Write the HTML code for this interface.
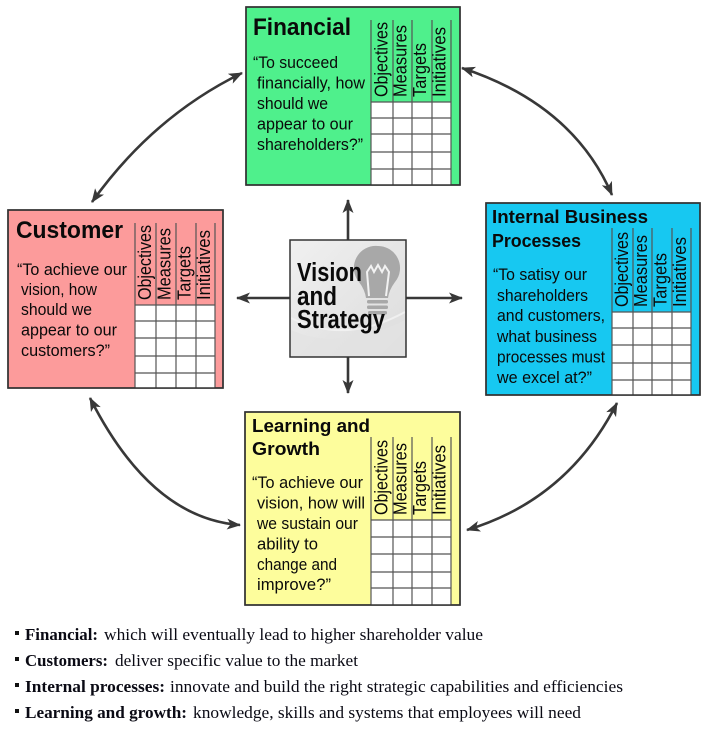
<!DOCTYPE html>
<html><head><meta charset="utf-8"><style>
html,body{margin:0;padding:0;background:#fff;}
svg{display:block;}
.t{font-family:"Liberation Sans",Arial,sans-serif;fill:#0a0a0a;}
.b{font-weight:bold;}
.q{font-size:17px;}
.h{font-size:18px;}
.s{font-family:"Liberation Serif","Times New Roman",serif;font-size:16.5px;fill:#0a0a14;}
</style></head><body>
<svg width="720" height="729" viewBox="0 0 720 729" xmlns="http://www.w3.org/2000/svg">
<defs>
<marker id="ah" markerUnits="userSpaceOnUse" markerWidth="15" markerHeight="12" refX="13" refY="5.5" orient="auto-start-reverse">
<path d="M0,0 L14,5.5 L0,11 L3.5,5.5 z" fill="#383838"/>
</marker>
<linearGradient id="cg" x1="0" y1="0" x2="1" y2="1">
<stop offset="0" stop-color="#f0f0f0"/><stop offset="1" stop-color="#dcdcdc"/>
</linearGradient>
</defs>

<!-- curved arrows -->
<g fill="none" stroke="#383838" stroke-width="2.6">
<path d="M242,73 Q153,116.5 92,202" marker-start="url(#ah)" marker-end="url(#ah)"/>
<path d="M462,68 Q573,104.5 612,195" marker-start="url(#ah)" marker-end="url(#ah)"/>
<path d="M90,398 Q151,518.5 240,525" marker-start="url(#ah)" marker-end="url(#ah)"/>
<path d="M617,403 Q568,499.5 467,530" marker-start="url(#ah)" marker-end="url(#ah)"/>
<!-- center straight arrows -->
<path d="M348,240 L348,200" marker-end="url(#ah)"/>
<path d="M348,357 L348,393" marker-end="url(#ah)"/>
<path d="M290,298 L237,298" marker-end="url(#ah)"/>
<path d="M406,298 L462,298" marker-end="url(#ah)"/>
</g>

<!-- Financial -->
<rect x="246" y="7" width="214" height="178" fill="#4ff08c" stroke="#333" stroke-width="1.5"/>
<rect x="371" y="102" width="80" height="83" fill="#fff"/>
<g stroke="#555" stroke-width="1.2">
<path d="M371,20V185M393,20V185M412,20V185M432,20V185M451,20V185"/>
<path d="M371,102H451M371,118H451M371,134H451M371,152H451M371,169H451"/>
</g>
<rect x="246" y="7" width="214" height="178" fill="none" stroke="#333" stroke-width="1.5"/>
<text class="t b" x="253" y="35" font-size="24.5" textLength="98" lengthAdjust="spacingAndGlyphs">Financial</text>
<g class="t q">
<text x="253" y="68" textLength="85" lengthAdjust="spacingAndGlyphs">“To succeed</text>
<text x="257" y="88.5" textLength="108" lengthAdjust="spacingAndGlyphs">financially, how</text>
<text x="257" y="109" textLength="71" lengthAdjust="spacingAndGlyphs">should we</text>
<text x="257" y="129.5" textLength="96" lengthAdjust="spacingAndGlyphs">appear to our</text>
<text x="257" y="150" textLength="106" lengthAdjust="spacingAndGlyphs">shareholders?”</text>
</g>
<g class="t h">
<text transform="translate(387.5,97) rotate(-90)" textLength="75" lengthAdjust="spacingAndGlyphs">Objectives</text>
<text transform="translate(406.5,97) rotate(-90)" textLength="72" lengthAdjust="spacingAndGlyphs">Measures</text>
<text transform="translate(426,97) rotate(-90)" textLength="54" lengthAdjust="spacingAndGlyphs">Targets</text>
<text transform="translate(445.5,97) rotate(-90)" textLength="70" lengthAdjust="spacingAndGlyphs">Initiatives</text>
</g>

<!-- Customer -->
<rect x="8" y="210" width="215" height="178" fill="#fc9b9b" stroke="#333" stroke-width="1.5"/>
<rect x="135" y="305" width="80" height="83" fill="#fff"/>
<g stroke="#555" stroke-width="1.2">
<path d="M135,223V388M156,223V388M176,223V388M196,223V388M215,223V388"/>
<path d="M135,305H215M135,321H215M135,338H215M135,356H215M135,373H215"/>
</g>
<rect x="8" y="210" width="215" height="178" fill="none" stroke="#333" stroke-width="1.5"/>
<text class="t b" x="16" y="238" font-size="24" textLength="107" lengthAdjust="spacingAndGlyphs">Customer</text>
<g class="t q">
<text x="17" y="275" textLength="110" lengthAdjust="spacingAndGlyphs">“To achieve our</text>
<text x="21" y="295" textLength="76" lengthAdjust="spacingAndGlyphs">vision, how</text>
<text x="21" y="315" textLength="71" lengthAdjust="spacingAndGlyphs">should we</text>
<text x="21" y="335.5" textLength="96" lengthAdjust="spacingAndGlyphs">appear to our</text>
<text x="21" y="356" textLength="89" lengthAdjust="spacingAndGlyphs">customers?”</text>
</g>
<g class="t h">
<text transform="translate(151,300) rotate(-90)" textLength="75" lengthAdjust="spacingAndGlyphs">Objectives</text>
<text transform="translate(170.5,300) rotate(-90)" textLength="72" lengthAdjust="spacingAndGlyphs">Measures</text>
<text transform="translate(190.5,300) rotate(-90)" textLength="54" lengthAdjust="spacingAndGlyphs">Targets</text>
<text transform="translate(210,300) rotate(-90)" textLength="70" lengthAdjust="spacingAndGlyphs">Initiatives</text>
</g>

<!-- Internal Business Processes -->
<rect x="486" y="203" width="214" height="192" fill="#17c8f1" stroke="#333" stroke-width="1.5"/>
<rect x="612" y="312" width="79" height="83" fill="#fff"/>
<g stroke="#555" stroke-width="1.2">
<path d="M612,228V395M633,228V395M652,228V395M672,228V395M691,228V395"/>
<path d="M612,312H691M612,328H691M612,345H691M612,363H691M612,380H691"/>
</g>
<rect x="486" y="203" width="214" height="192" fill="none" stroke="#333" stroke-width="1.5"/>
<text class="t b" x="492" y="223" font-size="18.5" textLength="156" lengthAdjust="spacingAndGlyphs">Internal Business</text>
<text class="t b" x="492" y="247" font-size="18.5" textLength="89" lengthAdjust="spacingAndGlyphs">Processes</text>
<g class="t q">
<text x="493" y="280" textLength="94" lengthAdjust="spacingAndGlyphs">“To satisy our</text>
<text x="497" y="301" textLength="91" lengthAdjust="spacingAndGlyphs">shareholders</text>
<text x="497" y="321" textLength="108" lengthAdjust="spacingAndGlyphs">and customers,</text>
<text x="497" y="342" textLength="100" lengthAdjust="spacingAndGlyphs">what business</text>
<text x="497" y="362.5" textLength="108" lengthAdjust="spacingAndGlyphs">processes must</text>
<text x="497" y="383" textLength="95" lengthAdjust="spacingAndGlyphs">we excel at?”</text>
</g>
<g class="t h">
<text transform="translate(628,307) rotate(-90)" textLength="75" lengthAdjust="spacingAndGlyphs">Objectives</text>
<text transform="translate(647,307) rotate(-90)" textLength="72" lengthAdjust="spacingAndGlyphs">Measures</text>
<text transform="translate(666.5,307) rotate(-90)" textLength="54" lengthAdjust="spacingAndGlyphs">Targets</text>
<text transform="translate(686,307) rotate(-90)" textLength="70" lengthAdjust="spacingAndGlyphs">Initiatives</text>
</g>

<!-- Learning and Growth -->
<rect x="245" y="412" width="215" height="193" fill="#fdfd9c" stroke="#333" stroke-width="1.5"/>
<rect x="371" y="520" width="80" height="85" fill="#fff"/>
<g stroke="#555" stroke-width="1.2">
<path d="M371,437V605M393,437V605M412,437V605M432,437V605M451,437V605"/>
<path d="M371,520H451M371,537H451M371,554H451M371,572H451M371,588H451"/>
</g>
<rect x="245" y="412" width="215" height="193" fill="none" stroke="#333" stroke-width="1.5"/>
<text class="t b" x="252" y="432" font-size="18.5" textLength="118" lengthAdjust="spacingAndGlyphs">Learning and</text>
<text class="t b" x="252" y="455" font-size="18.5" textLength="68" lengthAdjust="spacingAndGlyphs">Growth</text>
<g class="t q">
<text x="252" y="488" textLength="111" lengthAdjust="spacingAndGlyphs">“To achieve our</text>
<text x="257" y="508.5" textLength="108" lengthAdjust="spacingAndGlyphs">vision, how will</text>
<text x="257" y="529" textLength="101" lengthAdjust="spacingAndGlyphs">we sustain our</text>
<text x="257" y="549.5" textLength="61" lengthAdjust="spacingAndGlyphs">ability to</text>
<text x="257" y="570" textLength="80" lengthAdjust="spacingAndGlyphs">change and</text>
<text x="257" y="590" textLength="74" lengthAdjust="spacingAndGlyphs">improve?”</text>
</g>
<g class="t h">
<text transform="translate(387.5,515) rotate(-90)" textLength="75" lengthAdjust="spacingAndGlyphs">Objectives</text>
<text transform="translate(406.5,515) rotate(-90)" textLength="72" lengthAdjust="spacingAndGlyphs">Measures</text>
<text transform="translate(426,515) rotate(-90)" textLength="54" lengthAdjust="spacingAndGlyphs">Targets</text>
<text transform="translate(445.5,515) rotate(-90)" textLength="70" lengthAdjust="spacingAndGlyphs">Initiatives</text>
</g>

<!-- Vision and Strategy -->
<rect x="290" y="240" width="116" height="117" fill="url(#cg)"/>
<path d="M291,330 Q340,352 405,320 L405,356 L291,356 z" fill="#e2e2e2" opacity="0.7"/>
<path d="M291,318 Q345,345 405,312" fill="none" stroke="#f4f4f4" stroke-width="2" opacity="0.8"/>
<g fill="#a8a8a8">
<path d="M378,246 A22,22 0 0 1 395,282 Q389,290 388,298 L366,298 Q365,290 359,282 A22,22 0 0 1 378,246 z"/>
<rect x="367" y="300" width="21" height="3.5" rx="1.5"/>
<rect x="367" y="305.5" width="21" height="3.5" rx="1.5"/>
<rect x="368" y="311" width="19" height="3.5" rx="1.5"/>
</g>
<path d="M369,296 L367,272 L371,266 L374,272 L378,265 L382,272 L385,266 L389,272 L386,296" fill="none" stroke="#f2f2f2" stroke-width="2"/>
<rect x="290" y="240" width="116" height="117" fill="none" stroke="#333" stroke-width="1.5"/>
<g class="t b" font-size="25.5" fill="#1a1a1a">
<text x="297" y="281" textLength="65" lengthAdjust="spacingAndGlyphs">Vision</text>
<text x="297" y="305" textLength="40" lengthAdjust="spacingAndGlyphs">and</text>
<text x="297" y="328" textLength="88" lengthAdjust="spacingAndGlyphs">Strategy</text>
</g>

<!-- bottom bullet list -->
<g fill="#111">
<rect x="15" y="631" width="4" height="4"/>
<rect x="15" y="657" width="4" height="4"/>
<rect x="15" y="683" width="4" height="4"/>
<rect x="15" y="709" width="4" height="4"/>
</g>
<g class="s">
<text x="25" y="640" font-weight="bold" textLength="73" lengthAdjust="spacingAndGlyphs">Financial:</text>
<text x="104" y="640" textLength="379" lengthAdjust="spacingAndGlyphs">which will eventually lead to higher shareholder value</text>
<text x="25" y="666" font-weight="bold" textLength="83" lengthAdjust="spacingAndGlyphs">Customers:</text>
<text x="115" y="666" textLength="243" lengthAdjust="spacingAndGlyphs">deliver specific value to the market</text>
<text x="25" y="692" font-weight="bold" textLength="140" lengthAdjust="spacingAndGlyphs">Internal processes:</text>
<text x="170" y="692" textLength="453" lengthAdjust="spacingAndGlyphs">innovate and build the right strategic capabilities and efficiencies</text>
<text x="25" y="718" font-weight="bold" textLength="162" lengthAdjust="spacingAndGlyphs">Learning and growth:</text>
<text x="193" y="718" textLength="388" lengthAdjust="spacingAndGlyphs">knowledge, skills and systems that employees will need</text>
</g>
</svg>
</body></html>
